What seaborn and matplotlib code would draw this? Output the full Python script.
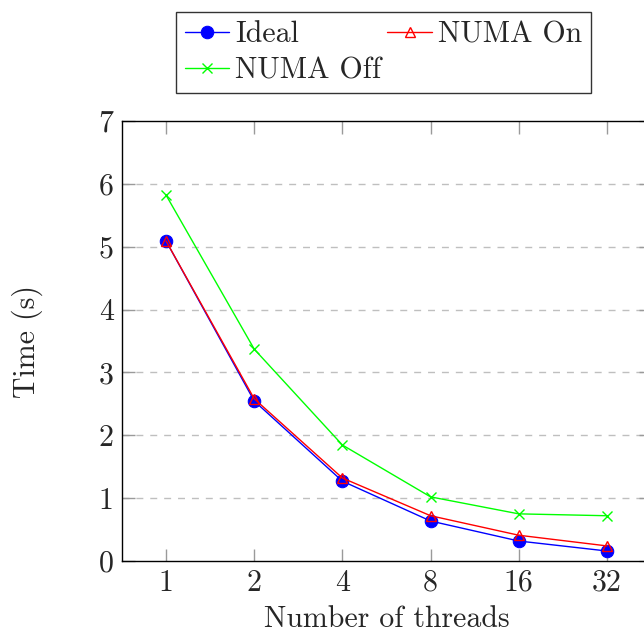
import numpy as np
import pandas as pd
import seaborn as sns
import matplotlib.pyplot as plt

# thread counts and measured times (s)
threads = [1, 2, 4, 8, 16, 32]
ideal = [5.09, 2.545, 1.27, 0.636, 0.318, 0.159]
numa_on = [5.09, 2.58, 1.32, 0.72, 0.41, 0.24]
numa_off = [5.82, 3.37, 1.845, 1.02, 0.75, 0.72]
y_ticks = [0, 1, 2, 3, 4, 5, 6, 7]

sns.set_style('white')
plt.rcParams['font.family'] = ['cmr10', 'DejaVu Serif']
plt.rcParams['axes.formatter.use_mathtext'] = True
plt.rcParams['mathtext.fontset'] = 'cm'

FS = 21.5

df = pd.DataFrame({'threads': threads, 'Ideal': ideal,
                   'NUMA On': numa_on, 'NUMA Off': numa_off})

fig = plt.figure(figsize=(6.44, 6.34), dpi=100)
ax = fig.add_axes([122/644, 73/634, 529/644, 440/634])

sns.lineplot(data=df, x='threads', y='Ideal', ax=ax, color='#0000ff', lw=1,
             marker='o', ms=9, mfc='#0000ff', mec='#0000ff', label='Ideal')
sns.lineplot(data=df, x='threads', y='NUMA On', ax=ax, color='#ff0000', lw=1,
             marker='^', ms=7, mfc='none', mec='#ff0000', mew=1, label='NUMA On')
sns.lineplot(data=df, x='threads', y='NUMA Off', ax=ax, color='#00ff00', lw=1,
             marker='x', ms=7, mec='#00ff00', mew=1, label='NUMA Off')

ax.set_xscale('log', base=2)
ax.set_xlim(1/np.sqrt(2), 32*np.sqrt(2))
ax.set_xticks(threads)
ax.set_xticklabels([str(t) for t in threads])
ax.minorticks_off()
ax.set_ylim(0, 7)
ax.set_yticks(y_ticks)
ax.set_yticklabels([str(t) for t in y_ticks])

for y in y_ticks[1:-1]:
    ax.axhline(y, color='#bfbfbf', lw=1, ls=(0, (5, 5)), zorder=0)

for s in ax.spines.values():
    s.set_color('black')
    s.set_linewidth(1)
ax.tick_params(axis='both', which='major', direction='in', length=9, width=1,
               color='#9a9a9a', labelsize=FS, top=True, right=True,
               bottom=True, left=True, pad=6)

ax.set_xlabel('Number of threads', fontsize=FS, labelpad=6)
ax.set_ylabel('Time (s)', fontsize=FS, labelpad=40)

# pgfplots fills the legend row by row
handles, labels = ax.get_legend_handles_labels()
order = [0, 2, 1]
leg = ax.legend([handles[i] for i in order], [labels[i] for i in order],
                loc='center', bbox_to_anchor=(383.5/644, 1 - 52.5/634),
                bbox_transform=fig.transFigure, ncol=2, fontsize=FS,
                frameon=True, fancybox=False, edgecolor='black',
                handlelength=1.5, handletextpad=0.2, columnspacing=0.2,
                labelspacing=0.3, borderpad=0.3, borderaxespad=0)
leg.get_frame().set_linewidth(1)

fig.savefig('out.png', dpi=100)
